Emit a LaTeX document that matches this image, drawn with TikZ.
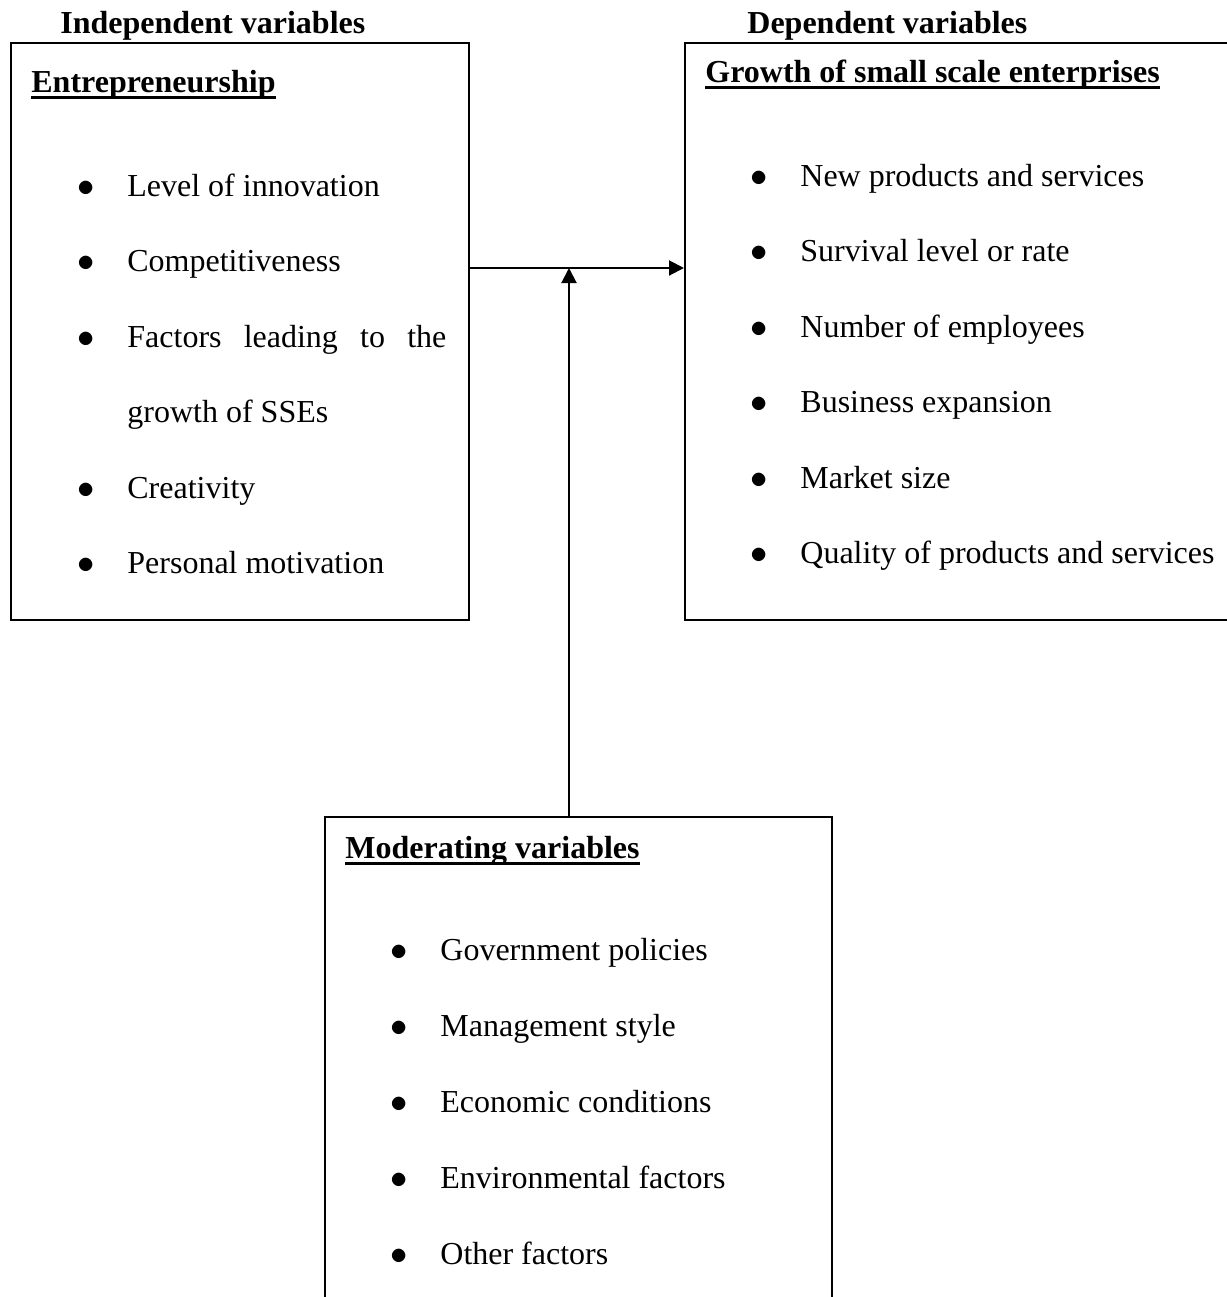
\documentclass[tikz,border=0pt]{standalone}
\usepackage{fontspec}
\setmainfont{Liberation Serif}
\usetikzlibrary{arrows.meta, positioning}

\newcommand{\bul}[1]{\makebox[25pt][l]{$\bullet$}#1}
\newcommand{\undl}[1]{\setbox0\hbox{#1}\rlap{\rule[-3.3pt]{\wd0}{1.5pt}}\box0}

\begin{document}
\begin{tikzpicture}[
        x=0.5pt, y=-0.5pt,
        every node/.style={font=\fontsize{16}{19}\selectfont, inner sep=0pt},
        box/.style={draw, line width=1pt, anchor=north west},
        head/.style={font=\fontsize{16}{19}\selectfont\bfseries, anchor=base west},
        item/.style={anchor=base west},
        arr/.style={line width=1pt, -{Triangle[length=7.5pt, width=7.5pt]}}
      ]
      \path[use as bounding box, clip] (0,0) rectangle (1227,1297);

      % boxes
      \node[box, minimum width=229pt, minimum height=288.5pt] (ent) at (10,42) {};
      \node[box, minimum width=280pt, minimum height=288.5pt] (grow) at (684,42) {};
      \node[box, minimum width=253.5pt, minimum height=250pt] (mod) at (324,816) {};

      % headings
      \node[head] (indep) at (60,33) {Independent variables};
      \node[head] (dep) at (747,33) {Dependent variables};
      \node[head] (entT) at (31,92) {\undl{Entrepreneurship}};
      \node[head] (growT) at (705,82) {\undl{Growth of small scale enterprises}};
      \node[head] (modT) at (345,858) {\undl{Moderating variables}};

      % independent variables
      \foreach \t/\y [count=\i] in {Level of innovation/196, Competitiveness/271.5,
          Creativity/498, Personal motivation/573.5}
        \node[item] (ent-\i) at (77,\y) {\bul{\t}};
      \node[item] (ent-f) at (77,347) {\bul{\makebox[159.5pt][s]{Factors leading to the}}};
      \node[item] (ent-g) at (127,422.5) {growth of SSEs};

      % dependent variables
      \foreach \t/\y [count=\i] in {New products and services/186, Survival level or rate/261.5,
          Number of employees/337, Business expansion/412.5, Market size/488,
          Quality of products and services/563.5}
        \node[item] (grow-\i) at (750,\y) {\bul{\t}};

      % moderating variables
      \foreach \t/\y [count=\i] in {Government policies/960, Management style/1036,
          Economic conditions/1112, Environmental factors/1188, Other factors/1264}
        \node[item] (mod-\i) at (390,\y) {\bul{\t}};

      % links
      \coordinate (mid) at (569,268);
      \draw[arr] (ent.east |- mid) -- (grow.west |- mid);
      \draw[arr] (mod.north -| mid) -- (mid);
      \end{tikzpicture}
\end{document}
